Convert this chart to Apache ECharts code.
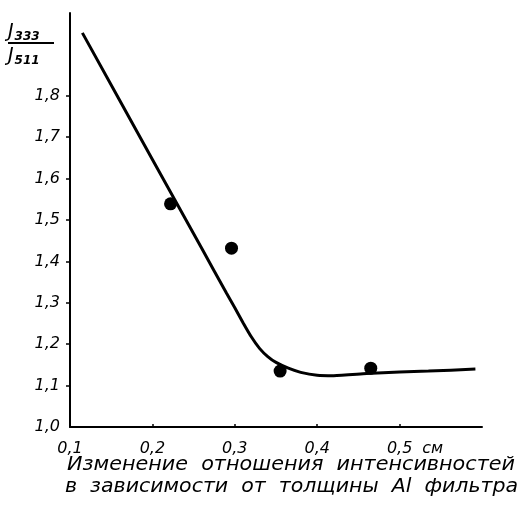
<!DOCTYPE html>
<html>
<head>
<meta charset="utf-8">
<script src="https://cdn.jsdelivr.net/npm/echarts@6/dist/echarts.min.js"></script>
<style>
  html, body { margin: 0; padding: 0; background: #fff; }
  #chart { width: 524px; height: 515px; }
</style>
</head>
<body>
<div id="chart"></div>
<script>
// fitted curve: straight fall, then a bend into a plateau
const curveX = [0.115, 0.2, 0.26, 0.29, 0.30, 0.31, 0.32, 0.33, 0.34, 0.35, 0.365, 0.38, 0.40, 0.42, 0.46, 0.50, 0.535, 0.592];
const curveY = [1.952, 1.646, 1.431, 1.323, 1.288, 1.252, 1.218, 1.190, 1.170, 1.156, 1.142, 1.132, 1.125, 1.124, 1.129, 1.133, 1.135, 1.140];

// measured points
const pointX = [0.222, 0.296, 0.355, 0.465];
const pointY = [1.539, 1.432, 1.135, 1.142];

const xTickValues = [0.1, 0.2, 0.3, 0.4, 0.5];
const yTickValues = [1.0, 1.1, 1.2, 1.3, 1.4, 1.5, 1.6, 1.7, 1.8];
const xUnit = "см";
const captionLines = [
  "Изменение  отношения  интенсивностей",
  "в  зависимости  от  толщины  Al  фильтра"
];

const font = "DejaVu Sans";
const chart = echarts.init(document.getElementById("chart"));

const comma = (v) => v.toFixed(1).replace(".", ",");

// left and right ends of each caption line in the picture
const captionSpans = [[67, 515], [65, 518]];
const captionTops = [456, 478];

const ctx = document.createElement("canvas").getContext("2d");
ctx.font = "italic 19px '" + font + "'";

const captionTexts = captionLines.map((t, i) => ({
  type: "text", x: captionSpans[i][0], y: captionTops[i],
  scaleX: (captionSpans[i][1] - captionSpans[i][0]) / ctx.measureText(t).width,
  style: { text: t, fontFamily: font, fontStyle: "italic", fontSize: 19, fill: "#000",
    align: "left", verticalAlign: "top" }
}));

const subRich = {
  j: { fontFamily: font, fontStyle: "italic", fontSize: 19, fill: "#000" },
  s: { fontFamily: font, fontStyle: "italic", fontWeight: "bold", fontSize: 12, fill: "#000", padding: [8, 0, 0, 1] }
};

chart.setOption({
  backgroundColor: "#fff",
  animation: false,
  grid: { left: 70, right: 42, top: 13, bottom: 88, containLabel: false, outerBoundsMode: "none" },
  xAxis: {
    type: "value",
    min: 0.1,
    max: 0.6,
    interval: 0.1,
    axisLine: { lineStyle: { color: "#000", width: 2 } },
    axisTick: { show: true, inside: true, length: 3, lineStyle: { color: "#000", width: 1.5 },
      customValues: [0.2, 0.3, 0.4, 0.5] },
    splitLine: { show: false },
    axisLabel: {
      customValues: xTickValues.concat([0.54]),
      formatter: (v) => (v > 0.52 ? xUnit : comma(v)),
      color: "#000", fontFamily: font, fontStyle: "italic", fontSize: 16, margin: 14
    }
  },
  yAxis: {
    type: "value",
    min: 1.0,
    max: 2.0,
    interval: 0.1,
    axisLine: { show: true, lineStyle: { color: "#000", width: 2 } },
    axisTick: { show: true, length: 4, lineStyle: { color: "#000", width: 1.5 },
      customValues: yTickValues.slice(1) },
    splitLine: { show: false },
    axisLabel: {
      customValues: yTickValues,
      formatter: (v) => comma(v),
      color: "#000", fontFamily: font, fontStyle: "italic", fontSize: 16, margin: 10
    }
  },
  series: [
    {
      type: "line",
      data: curveX.map((x, i) => [x, curveY[i]]),
      smooth: 0.2,
      showSymbol: false,
      lineStyle: { color: "#000", width: 3 },
      z: 2
    },
    {
      type: "scatter",
      data: pointX.map((x, i) => [x, pointY[i]]),
      symbol: "circle",
      symbolSize: 13,
      itemStyle: { color: "#000", opacity: 1 },
      z: 3
    }
  ],
  graphic: [
    { type: "text", left: 8, top: 23, style: { text: "{j|J}{s|333}", rich: subRich } },
    { type: "line", shape: { x1: 8, y1: 43, x2: 54, y2: 43 }, style: { stroke: "#000", lineWidth: 2 } },
    { type: "text", left: 8, top: 47, style: { text: "{j|J}{s|511}", rich: subRich } }
  ].concat(captionTexts)
});
</script>
</body>
</html>
